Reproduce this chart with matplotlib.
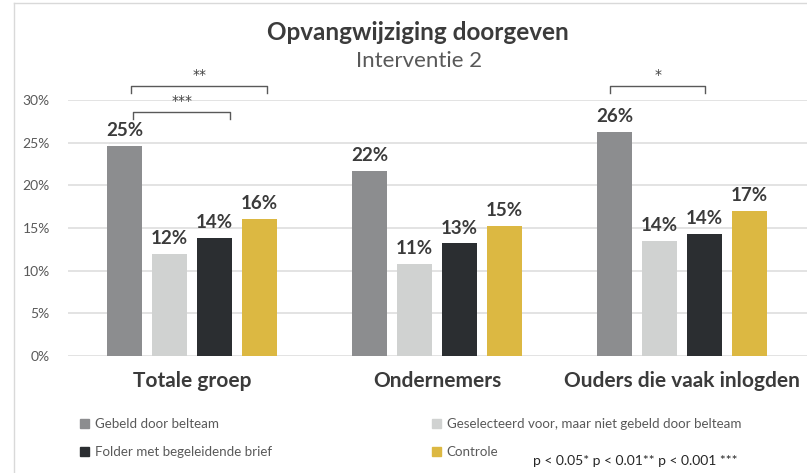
import numpy as np
import matplotlib.pyplot as plt
from matplotlib.lines import Line2D
from matplotlib.patches import Patch

plt.rcParams['font.family'] = ['Lato', 'DejaVu Sans']

groepen = ["Totale groep", "Ondernemers", "Ouders die vaak inlogden"]
reeksen = ["Gebeld door belteam",
           "Geselecteerd voor, maar niet gebeld door belteam",
           "Folder met begeleidende brief",
           "Controle"]
waarden = {
    "Gebeld door belteam": [0.246, 0.217, 0.263],
    "Geselecteerd voor, maar niet gebeld door belteam": [0.120, 0.108, 0.135],
    "Folder met begeleidende brief": [0.138, 0.132, 0.143],
    "Controle": [0.161, 0.152, 0.170],
}
labels = {
    "Gebeld door belteam": ["25%", "22%", "26%"],
    "Geselecteerd voor, maar niet gebeld door belteam": ["12%", "11%", "14%"],
    "Folder met begeleidende brief": ["14%", "13%", "14%"],
    "Controle": ["16%", "15%", "17%"],
}
kleuren = ["#8c8d8f", "#d0d2d1", "#2b2e31", "#dcb842"]
yticks = [0, 0.05, 0.10, 0.15, 0.20, 0.25, 0.30]
ytick_labels = ["0%", "5%", "10%", "15%", "20%", "25%", "30%"]

# significantie: groep, reeks van, reeks tot, hoogte, tekst, verschuiving links/rechts
sig = [(0, 0, 3, 0.316, "**", 0.027, 0.033),
       (0, 0, 2, 0.286, "***", 0.035, 0.065),
       (2, 0, 2, 0.316, "*", -0.018, 0.002)]

fig = plt.figure(figsize=(8.07, 4.73), dpi=100)
ax = fig.add_axes([68/807, 117/473, 739/807, 256/473])

x = np.arange(len(groepen))
stap = 0.183
breedte = 0.143
for i, r in enumerate(reeksen):
    pos = x + (i - 1.5) * stap
    bars = ax.bar(pos, waarden[r], breedte, color=kleuren[i], zorder=3)
    for b, lab in zip(bars, labels[r]):
        ax.text(b.get_x() + b.get_width()/2, b.get_height() + 0.008, lab,
                ha='center', va='bottom', fontsize=13.5, fontweight='bold',
                color='#3b3b3b')

for g, a, b, h, t, d0, d1 in sig:
    x0 = x[g] + (a - 1.5) * stap + d0
    x1 = x[g] + (b - 1.5) * stap + d1
    ax.plot([x0, x0, x1, x1], [h - 0.008, h, h, h - 0.008], color='#595959',
            lw=1, clip_on=False)
    ax.text((x0 + x1)/2, h + 0.005, t, ha='center', va='bottom', fontsize=10,
            color='#404040', family='DejaVu Sans')

ax.set_xlim(-0.505, 2.51)
ax.set_ylim(0, 0.30)
ax.set_yticks(yticks)
ax.set_yticklabels(ytick_labels)
ax.set_xticks(x)
ax.set_xticklabels(groepen, fontsize=15, fontweight='bold', color='#3b3b3b')
ax.tick_params(axis='x', length=0, pad=11)
ax.tick_params(axis='y', length=0, pad=13, labelsize=10, labelcolor='#595959')
ax.grid(axis='y', color='#dedede', lw=1.2, zorder=0)
for s in ax.spines.values():
    s.set_visible(False)

fig.text(418/807, 1 - 32/473, "Opvangwijziging doorgeven", ha='center',
         va='center', fontsize=17.5, fontweight='bold', color='#3b3b3b')
fig.text(419/807, 1 - 61/473, "Interventie 2", ha='center', va='center',
         fontsize=16, color='#595959')

handles = [Patch(color=k) for k in kleuren]
leg_opts = dict(loc='center left', frameon=False, fontsize=9.6,
                handlelength=0.7, handleheight=0.7, handletextpad=0.4,
                labelspacing=1.2, labelcolor='#595959')
fig.legend([handles[0], handles[2]], [reeksen[0], reeksen[2]],
           bbox_to_anchor=(68/807, 1 - 438/473), **leg_opts)
fig.legend([handles[1], handles[3]], [reeksen[1], reeksen[3]],
           bbox_to_anchor=(420/807, 1 - 438/473), **leg_opts)
fig.text(533/807, 1 - 461/473, "p < 0.05* p < 0.01** p < 0.001 ***",
         ha='left', va='center', fontsize=10, color='#262626')

fig.add_artist(Line2D([14/807, 14/807], [0, 1 - 3/473], color='#d9d9d9', lw=1))
fig.add_artist(Line2D([14/807, 1], [1 - 3/473, 1 - 3/473], color='#d9d9d9', lw=1))

fig.savefig("out.png", dpi=100)
